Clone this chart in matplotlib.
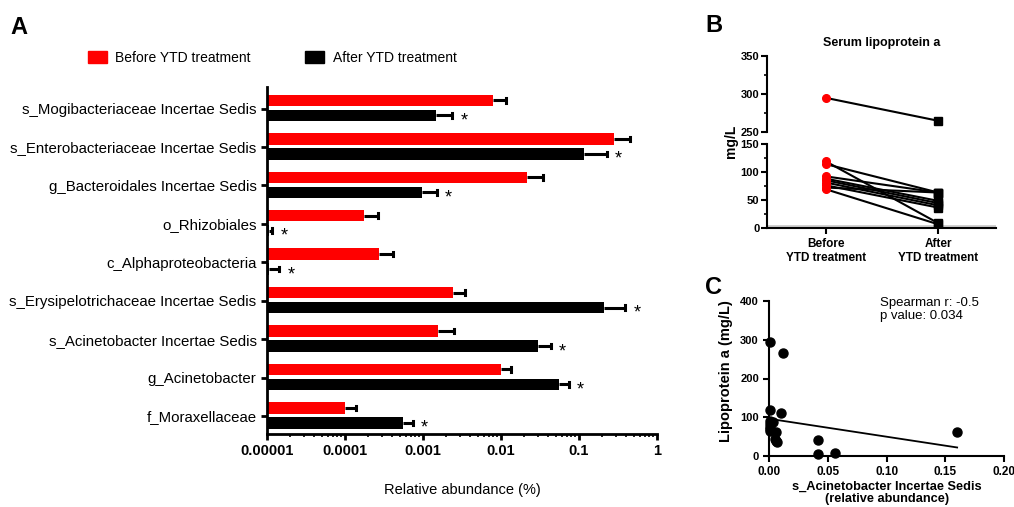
import numpy as np
import matplotlib
matplotlib.use("Agg")
import matplotlib.pyplot as plt
from matplotlib.patches import Patch
from matplotlib.ticker import LogLocator, FixedLocator, NullFormatter

# Datos del panel A (abundancia relativa, %)
taxones = [
    's_Mogibacteriaceae Incertae Sedis',
    's_Enterobacteriaceae Incertae Sedis',
    'g_Bacteroidales Incertae Sedis',
    'o_Rhizobiales',
    'c_Alphaproteobacteria',
    's_Erysipelotrichaceae Incertae Sedis',
    's_Acinetobacter Incertae Sedis',
    'g_Acinetobacter',
    'f_Moraxellaceae',
]
antes = [0.0079, 0.28, 0.0213, 0.000175, 0.000273, 0.0024, 0.00157, 0.0099, 0.0001]
antes_err = [0.0115, 0.45, 0.035, 0.000267, 0.000417, 0.0035, 0.00252, 0.0133, 0.000137]
despues = [0.00147, 0.116, 0.00098, 0.0000106, 0.0000105, 0.209, 0.0295, 0.0554, 0.00055]
despues_err = [0.00238, 0.226, 0.0015, 0.0000117, 0.0000144, 0.39, 0.0434, 0.0738, 0.00074]
xticks_a = [0.00001, 0.0001, 0.001, 0.01, 0.1, 1]
xticklabels_a = ['0.00001', '0.0001', '0.001', '0.01', '0.1', '1']

# Datos del panel B (mg/L)
lpa_antes = [295, 119, 114, 92, 88, 85, 81, 76, 72, 69]
lpa_despues = [265, 8, 63, 63, 48, 44, 40, 36, 63, 6]
grupos_b = ['Before\nYTD treatment', 'After\nYTD treatment']

# Datos del panel C
acineto = [0.0005, 0.012, 0.0005, 0.010, 0.001, 0.003, 0.001, 0.0005, 0.001, 0.0005,
           0.0055, 0.0045, 0.0055, 0.0062, 0.0415, 0.0415, 0.056, 0.16]
lpa_c = [295, 265, 120, 112, 90, 88, 82, 76, 70, 65, 63, 45, 38, 35, 41, 5, 7, 62]
ajuste_x = [0.0, 0.16]
ajuste_y = [96, 22]

plt.rcParams['font.family'] = ['Liberation Sans', 'DejaVu Sans']

fig = plt.figure(figsize=(10.14, 5.07), dpi=100)

ROJO = '#ff0000'
NEGRO = '#000000'

# ---------------- Panel A ----------------
axA = fig.add_axes([267 / 1014, 1 - 434 / 507, 390 / 1014, 347 / 507])
y = np.arange(len(taxones))
base = 0.00001
h = 0.30
axA.barh(y - 0.21, np.array(antes) - base, left=base, height=h, color=ROJO)
axA.barh(y + 0.18, np.array(despues) - base, left=base, height=h, color=NEGRO)
for i in range(len(taxones)):
    axA.plot([antes[i], antes_err[i]], [i - 0.21, i - 0.21], color='k', lw=2.2, solid_capstyle='butt')
    axA.plot([antes_err[i]] * 2, [i - 0.21 - 0.06, i - 0.21 + 0.06], color='k', lw=2.2)
    axA.plot([despues[i], despues_err[i]], [i + 0.18, i + 0.18], color='k', lw=2.2, solid_capstyle='butt')
    axA.plot([despues_err[i]] * 2, [i + 0.18 - 0.06, i + 0.18 + 0.06], color='k', lw=2.2)
    axA.annotate('*', (despues_err[i], i + 0.18), xytext=(6, -4), textcoords='offset points',
                 ha='left', va='center', fontsize=13)
axA.set_xscale('log')
axA.set_xlim(0.00001, 1)
axA.set_ylim(8.47, -0.56)
axA.set_xticks(xticks_a)
axA.set_xticklabels(xticklabels_a, fontsize=10.5, fontweight='bold')
axA.xaxis.set_minor_locator(LogLocator(base=10, subs=np.arange(2, 10)))
axA.xaxis.set_minor_formatter(NullFormatter())
axA.set_yticks(y)
axA.set_yticklabels(taxones, fontsize=10.8)
for s in ['top', 'right']:
    axA.spines[s].set_visible(False)
for s in ['left', 'bottom']:
    axA.spines[s].set_linewidth(2)
axA.tick_params(axis='both', which='major', width=2, length=4)
axA.tick_params(axis='x', which='minor', width=1.2, length=2.5)
axA.set_xlabel('Relative abundance (%)', fontsize=10.5, labelpad=17.5)

fig.legend([Patch(color=ROJO), Patch(color=NEGRO)],
           ['Before YTD treatment', 'After YTD treatment'],
           loc='center left', bbox_to_anchor=(75 / 1014, 1 - 58 / 507), ncol=2,
           frameon=False, fontsize=10, handlelength=1.4, handleheight=0.9,
           handletextpad=0.6, columnspacing=3.9)

fig.text(10 / 1014, 1 - 28 / 507, 'A', fontsize=17, fontweight='bold', va='center')

# ---------------- Panel B ----------------
izq_b, ancho_b = 767 / 1014, 229 / 1014
axBt = fig.add_axes([izq_b, 1 - 132.3 / 507, ancho_b, 76.6 / 507])
axBb = fig.add_axes([izq_b, 1 - 227.7 / 507, ancho_b, 83.7 / 507])
for ax in (axBt, axBb):
    for i in range(len(lpa_antes)):
        ax.plot([0, 1], [lpa_antes[i], lpa_despues[i]], color='k', lw=1.5, zorder=2)
    ax.plot(np.zeros(len(lpa_antes)), lpa_antes, 'o', color=ROJO, ms=5.5, zorder=3)
    ax.plot(np.ones(len(lpa_despues)), lpa_despues, 's', color=NEGRO, ms=6, zorder=3)
    ax.set_xlim(-0.521, 1.512)
    ax.spines['top'].set_visible(False)
    ax.spines['right'].set_visible(False)
    ax.spines['left'].set_linewidth(1.5)
    ax.tick_params(axis='y', which='major', width=1.5, length=4, labelsize=8, pad=1.5)
    ax.tick_params(axis='y', which='minor', width=1.2, length=2.5)

axBt.set_ylim(250, 350)
axBt.set_yticks([250, 300, 350])
axBt.yaxis.set_minor_locator(FixedLocator([275, 325]))
axBt.spines['bottom'].set_visible(False)
axBt.set_xticks([])
axBt.set_yticklabels(['250', '300', '350'], fontsize=8, fontweight='bold')
axBt.set_title('Serum lipoprotein a', fontsize=9, fontweight='bold', pad=7)

axBb.set_ylim(0, 150)
axBb.set_yticks([0, 50, 100, 150])
axBb.set_yticklabels(['0', '50', '100', '150'], fontsize=8, fontweight='bold')
axBb.yaxis.set_minor_locator(FixedLocator([25, 75, 125]))
axBb.axhline(3, color='#cccccc', lw=2, zorder=1)
axBb.spines['bottom'].set_linewidth(1.5)
axBb.set_xticks([0, 1])
axBb.set_xticklabels(grupos_b, fontsize=8.5, fontweight='bold')
axBb.tick_params(axis='x', width=1.5, length=4)

fig.text(731 / 1014, 1 - 141 / 507, 'mg/L', rotation=90, fontsize=10, fontweight='bold',
         ha='center', va='center')
fig.text(705 / 1014, 1 - 25 / 507, 'B', fontsize=17, fontweight='bold', va='center')

# ---------------- Panel C ----------------
axC = fig.add_axes([769.3 / 1014, 1 - 456 / 507, 234.8 / 1014, 155 / 507])
axC.plot(acineto, lpa_c, 'o', color='k', ms=6.5, clip_on=False, zorder=3)
axC.plot(ajuste_x, ajuste_y, color='k', lw=1.3)
axC.set_xlim(0, 0.2)
axC.set_ylim(0, 400)
axC.set_xticks([0, 0.05, 0.10, 0.15, 0.20])
axC.set_xticklabels(['0.00', '0.05', '0.10', '0.15', '0.20'], fontsize=8.5, fontweight='bold')
axC.set_yticks([0, 100, 200, 300, 400])
axC.set_yticklabels(['0', '100', '200', '300', '400'], fontsize=8, fontweight='bold')
for s in ['top', 'right']:
    axC.spines[s].set_visible(False)
for s in ['left', 'bottom']:
    axC.spines[s].set_linewidth(1.5)
axC.tick_params(axis='both', width=1.5, length=4)
axC.set_xlabel('s_Acinetobacter Incertae Sedis\n(relative abundance)', fontsize=9.2,
               fontweight='bold', linespacing=1.0, labelpad=2)
axC.set_ylabel('Lipoprotein a (mg/L)', fontsize=10.5, fontweight='bold')
axC.yaxis.set_label_coords(-0.155, 0.55)
axC.text(0.094, 410, 'Spearman r: -0.5\np value: 0.034', fontsize=9.5, va='top',
         linespacing=1.15, clip_on=False)
fig.text(705 / 1014, 1 - 288 / 507, 'C', fontsize=17, fontweight='bold', va='center')

fig.savefig('out.png', dpi=100)
